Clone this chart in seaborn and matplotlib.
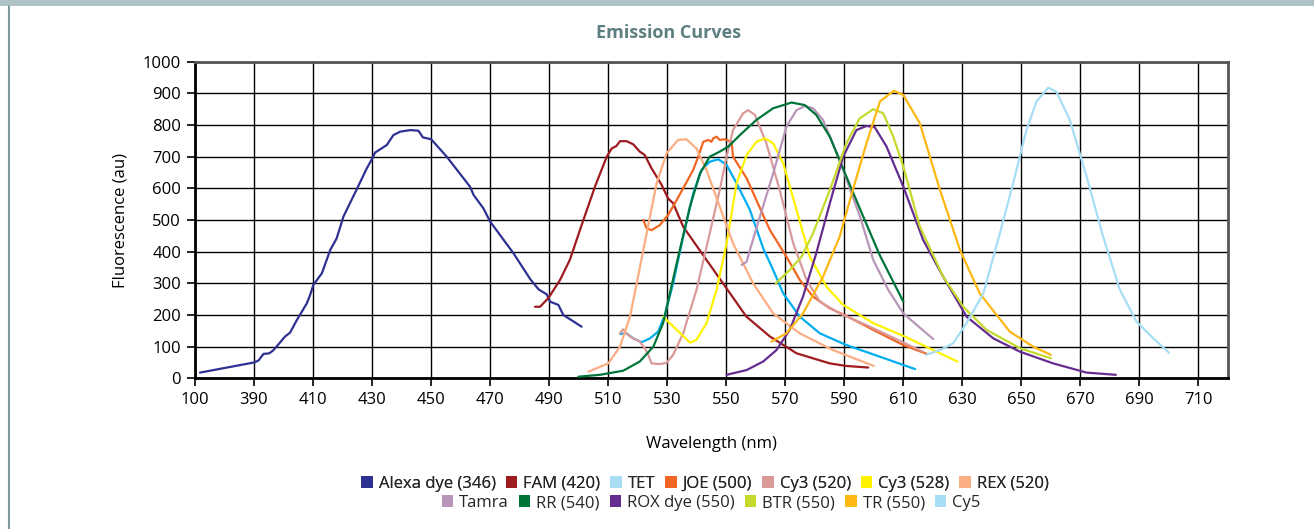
import matplotlib
matplotlib.use("Agg")
import matplotlib.pyplot as plt
from matplotlib.patches import Patch, Rectangle
from matplotlib.lines import Line2D
import seaborn as sns
import pandas as pd

# ---------------- data (wavelength nm, fluorescence au) ----------------
alexa_x = [371.7, 390, 391.5, 393.2, 395.2, 396.6, 398.8, 400.5, 402.2, 404.5, 407.9, 409, 410.1, 413, 415.8,
           418, 420.3, 424.8, 428.2, 430.1, 431, 432.7, 435, 437.2, 439.5, 442.9, 445.7, 447.2, 450, 455.3,
           463.2, 464.4, 467.7, 470, 477.9, 483.6, 486.4, 489.2, 490.3, 493.1, 494.8, 501]
alexa_y = [18, 50, 56, 77, 79, 89, 113, 132, 144, 184, 237, 263, 295, 332, 405,
           442, 511, 597, 663, 695, 713, 723, 737, 768, 779, 784, 782, 761, 755, 700,
           605, 579, 537, 495, 395, 313, 281, 265, 242, 232, 200, 163]

fam_x = [485.2, 486.9, 489.7, 493.7, 497, 501, 505.5, 509.5, 511.2, 512.8, 514, 516.2, 518.5, 520.7, 522.4,
         524.7, 528.1, 530.3, 532, 535.4, 543.3, 550.1, 556.8, 564.8, 573.8, 585.1, 590.7, 598.1]
fam_y = [226, 226, 253, 311, 374, 484, 605, 700, 726, 734, 749, 749, 739, 716, 705,
         663, 611, 568, 553, 479, 374, 284, 195, 132, 79, 47, 39, 34]

tet_x = [514, 516.2, 518.5, 521.3, 524.1, 526.9, 529.2, 532, 535.4, 538.8, 541.6, 544.4, 547.3, 550.1, 553.5,
         558, 562.5, 565.9, 569.3, 574.9, 581.7, 590.7, 602.1, 614]
tet_y = [140, 142, 126, 114, 126, 147, 200, 300, 447, 584, 658, 684, 692, 674, 616,
         532, 411, 342, 268, 195, 142, 105, 68, 29]

joe_x = [521.9, 523, 524.7, 527.5, 530.3, 532.6, 535.4, 538.8, 540.5, 542.2, 543.9, 545, 545.6, 546.7, 547.8,
         549.5, 551.8, 552.3, 556.9, 560.2, 564.8, 570.4, 574.9, 579.4, 585.1, 590.7, 599.8, 610, 618]
joe_y = [500, 474, 468, 484, 516, 553, 600, 658, 700, 747, 753, 747, 758, 763, 753,
         755, 747, 700, 632, 563, 468, 384, 311, 258, 221, 197, 153, 105, 77]

cy3a_x = [514, 515.1, 516.2, 517.9, 520.7, 522.4, 523.6, 524.7, 527.5, 529.8, 532, 535.4, 539.9, 544.4, 547.8,
          550.1, 552.3, 555.7, 557.4, 559.7, 563.6, 568.1, 572.7, 577.2, 581.7, 588.4, 598.7, 610, 616.7]
cy3a_y = [142, 155, 142, 129, 116, 95, 74, 47, 45, 49, 74, 142, 279, 458, 595,
          700, 784, 837, 847, 832, 742, 595, 426, 311, 242, 205, 163, 113, 84]

cy3b_x = [528.6, 533.2, 537.7, 539.9, 543.3, 546.7, 550.1, 553.5, 556.9, 560.2, 563.1, 565.9, 569.3, 573.8,
          578.3, 584, 589.6, 599.8, 610, 628.3]
cy3b_y = [195, 153, 113, 121, 174, 279, 426, 616, 705, 747, 758, 742, 679, 532,
          384, 289, 232, 174, 134, 53]

rex_x = [503.3, 510, 514, 517.4, 521.9, 526.4, 529.8, 533.7, 536.5, 539.9, 543.3, 547.8, 552.3, 559.1, 565.9,
         574.9, 586.2, 600]
rex_y = [21, 47, 100, 195, 405, 616, 711, 753, 755, 726, 658, 542, 426, 300, 205,
         142, 89, 39]

tamra_x = [555.2, 556.9, 558, 561.4, 565.9, 570.4, 573.8, 576.6, 579.4, 582.8, 588.4, 595.3, 599.8, 604.9,
           610, 620.1]
tamra_y = [358, 368, 405, 511, 647, 795, 847, 860, 853, 816, 689, 511, 374, 279,
           205, 124]

rr_x = [499.9, 507.2, 515.1, 520.7, 525.3, 528.6, 533.2, 537.7, 541.1, 544.4, 547.8, 550.7, 554.6, 560.2,
        565.9, 572.1, 576.6, 580.5, 585.1, 590.7, 596.4, 602, 610]
rr_y = [5, 11, 24, 53, 100, 174, 363, 542, 647, 700, 716, 732, 768, 816,
        853, 871, 863, 832, 763, 637, 511, 389, 242]

rox_x = [550.1, 556.9, 562.5, 567, 571.5, 576, 580.5, 585.1, 589.6, 594.1, 597.5, 600.3, 604.3, 610, 616.7,
         623.5, 631.4, 640.5, 649.5, 660.8, 672.1, 682]
rox_y = [11, 26, 53, 89, 153, 258, 395, 553, 700, 784, 797, 793, 732, 605, 437,
         321, 195, 126, 84, 47, 18, 11]

btr_x = [566.8, 571.5, 575.5, 579.4, 585.1, 590.7, 595.2, 599.8, 603.2, 606.6, 610, 615.6, 623.5, 630.3,
         638.2, 649.5, 660]
btr_y = [300, 342, 384, 458, 595, 742, 821, 850, 837, 763, 668, 479, 321, 226,
         153, 95, 63]

tr_x = [565.3, 570.4, 576, 582.8, 588.4, 592.9, 597.5, 602.1, 606.8, 610, 615.6, 622.4, 629.2, 635.9,
        646.1, 654, 660]
tr_y = [116, 142, 205, 321, 447, 595, 742, 875, 908, 895, 805, 595, 405, 268,
        147, 100, 74]

cy5_x = [617.7, 622.4, 626.9, 631.4, 637.1, 642.7, 647.2, 651.7, 655.1, 659.1, 661.9, 666.4, 672.1, 677.7,
         683.4, 689, 694.7, 700]
cy5_y = [74, 89, 111, 174, 268, 458, 616, 784, 874, 918, 905, 816, 637, 447,
         279, 179, 126, 81]

dyes = ["Alexa dye (346)", "FAM (420)", "TET", "JOE (500)", "Cy3 (520)", "Cy3 (528)", "REX (520)",
        "Tamra", "RR (540)", "ROX dye (550)", "BTR (550)", "TR (550)", "Cy5"]
series = [(alexa_x, alexa_y), (fam_x, fam_y), (tet_x, tet_y), (joe_x, joe_y), (cy3a_x, cy3a_y),
          (cy3b_x, cy3b_y), (rex_x, rex_y), (tamra_x, tamra_y), (rr_x, rr_y), (rox_x, rox_y),
          (btr_x, btr_y), (tr_x, tr_y), (cy5_x, cy5_y)]

line_colors = ["#2E3192", "#9E1B20", "#00AEEF", "#F26522", "#DA9A9A", "#FFF200", "#FBAE82",
               "#B995B9", "#00753A", "#662D91", "#C5D92D", "#FDB813", "#A7DDF5"]
legend_colors = ["#2E3192", "#9E1B20", "#A7DDF5", "#F26522", "#DA9A9A", "#FFF200", "#FBAE82",
                 "#B995B9", "#00753A", "#662D91", "#C5D92D", "#FDB813", "#A7DDF5"]

x_ticks = list(range(370, 711, 20))
x_tick_labels = ["100", "390", "410", "430", "450", "470", "490", "510", "530", "550",
                 "570", "590", "610", "630", "650", "670", "690", "710"]
y_ticks = list(range(0, 1001, 100))

# ---------------- build long-form table ----------------
rows = []
for name, (xs, ys) in zip(dyes, series):
    for i, (xv, yv) in enumerate(zip(xs, ys)):
        rows.append({"dye": name, "order": i, "wl": xv, "fl": yv})
df = pd.DataFrame(rows)

sns.set_theme(style="white")
plt.rcParams["font.family"] = ["Open Sans", "DejaVu Sans"]

fig = plt.figure(figsize=(13.14, 5.29), dpi=100)
ax = fig.add_axes([195 / 1314, 1 - 378.3 / 529, (1228 - 195) / 1314, (378.3 - 61.7) / 529])

palette = dict(zip(dyes, line_colors))
sns.lineplot(data=df, x="wl", y="fl", hue="dye", palette=palette, hue_order=dyes,
             estimator=None, sort=False, units="dye", linewidth=1.6, legend=False, ax=ax, zorder=3)

ax.set_xlim(370, 720)
ax.set_ylim(0, 1000)
ax.set_xticks(x_ticks)
ax.set_xticklabels(x_tick_labels)
ax.set_yticks(y_ticks)
ax.grid(True, color="black", linewidth=1.0)
ax.set_axisbelow(True)
ax.tick_params(axis="both", which="major", labelsize=12, length=6, width=1.2, color="black",
               direction="out", bottom=True, left=True, pad=4, labelcolor="black")
for side in ["left", "bottom"]:
    ax.spines[side].set_color("black")
    ax.spines[side].set_linewidth(2)
for side in ["top", "right"]:
    ax.spines[side].set_color("#555555")
    ax.spines[side].set_linewidth(2)

ax.set_xlabel("Wavelength (nm)", fontsize=12, labelpad=20, color="black")
ax.set_ylabel("Fluorescence (au)", fontsize=12, labelpad=10, color="black")

fig.text(668 / 1314, 1 - 33 / 529, "Emission Curves", ha="center", va="center",
         fontsize=13, fontweight="bold", color="#5E7F80")

# decorative header bar and left border
fig.patches.append(Rectangle((0, 1 - 6 / 529), 1, 6 / 529, transform=fig.transFigure,
                             facecolor="#AFC3C6", edgecolor="none", zorder=0))
fig.lines.append(Line2D([8.5 / 1314, 8.5 / 1314], [0, 1 - 6 / 529], transform=fig.transFigure,
                        color="#7E9C9E", linewidth=1.5))

# legend in two centered rows
handles = [Patch(facecolor=c, edgecolor="none") for c in legend_colors]
leg1 = fig.legend(handles[:7], dyes[:7], loc="center", bbox_to_anchor=(705 / 1314, 1 - 484 / 529),
                  ncol=7, frameon=False, fontsize=12, handlelength=0.7, handleheight=0.7,
                  handletextpad=0.35, columnspacing=0.6, borderpad=0)
leg2 = fig.legend(handles[7:], dyes[7:], loc="center", bbox_to_anchor=(711 / 1314, 1 - 503 / 529),
                  ncol=6, frameon=False, fontsize=12, handlelength=0.7, handleheight=0.7,
                  handletextpad=0.35, columnspacing=0.6, borderpad=0)
fig.add_artist(leg1)

fig.savefig("out.png", dpi=100, facecolor="white")
